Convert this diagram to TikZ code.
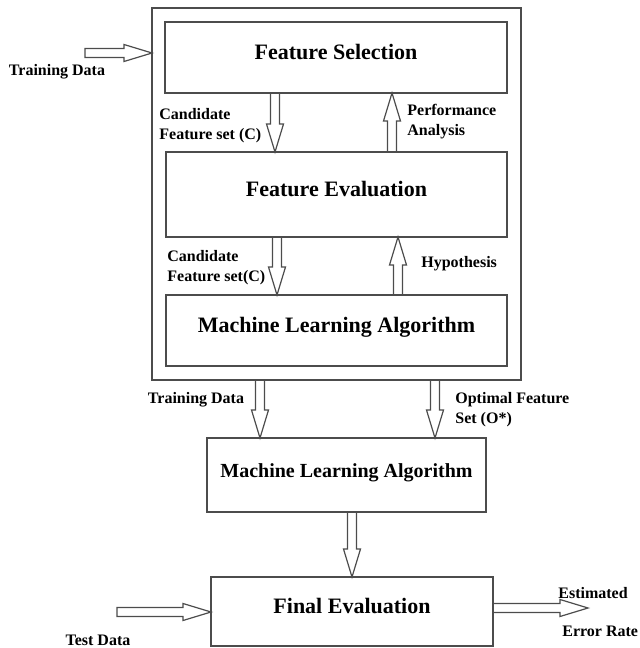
\documentclass[tikz,border=0pt]{standalone}
\usepackage{fontspec}
\setmainfont{Liberation Serif}
\usetikzlibrary{calc}

\begin{document}
\begin{tikzpicture}[x=0.5pt,y=-0.5pt,
  box/.style={draw=black!70,line width=0.9pt,inner sep=0pt,outer sep=0pt,
    text height=8pt,text depth=6pt,font=\fontsize{11}{13}\selectfont\bfseries},
  lbl/.style={font=\fontsize{8}{10}\selectfont\bfseries,align=left,inner sep=0pt},
  blk/.style={draw=black!70,line width=0.6pt,line join=miter,
    to path={let \p1=(\tikztostart), \p2=(\tikztotarget),
      \n1={atan2(\y2-\y1,\x2-\x1)}, \n2={veclen(\x2-\x1,\y2-\y1)} in
      ([shift={(\n1+90:2.25pt)}]\p1) -- ++(\n1:{\n2-14pt}) -- ++(\n1+90:2pt)
      -- (\p2) -- ([shift={(\n1-90:4.25pt)},shift={(\n1+180:14pt)}]\p2)
      -- ++(\n1+90:2pt) -- ([shift={(\n1-90:2.25pt)}]\p1) -- cycle}}]
\useasboundingbox (0,0) rectangle (640,648);
\node[box,minimum width=184.5pt,minimum height=186pt] (outer) at (336.5,194) {};
\node[box,minimum width=171pt,minimum height=35.5pt] (fsel) at (336,57.5) {Feature Selection};
\node[box,minimum width=170.5pt,minimum height=42.5pt] (feval) at (336.5,194.5) {Feature Evaluation};
\node[box,minimum width=170.5pt,minimum height=35.5pt] (mlin) at (336.5,330.5) {Machine Learning Algorithm};
\node[box,minimum width=139.5pt,minimum height=37pt,font=\fontsize{10}{12}\selectfont\bfseries]
  (mlout) at (346.5,475) {Machine Learning Algorithm};
\node[box,minimum width=141pt,minimum height=34.5pt] (final) at (352,611.5) {Final Evaluation};

\coordinate (tdin) at (85,53);
\coordinate (tsin) at (117,612);
\coordinate (errout) at (588,608);

\draw[blk] (tdin) to (outer.west |- tdin);
\draw[blk] (fsel.south -| 275,0) to (feval.north -| 275,0);
\draw[blk] (feval.north -| 392,0) to (fsel.south -| 392,0);
\draw[blk] (feval.south -| 277,0) to (mlin.north -| 277,0);
\draw[blk] (mlin.north -| 398,0) to (feval.south -| 398,0);
\draw[blk] (outer.south -| 260,0) to (mlout.north -| 260,0);
\draw[blk] (outer.south -| 435,0) to (mlout.north -| 435,0);
\draw[blk] (mlout.south -| 352,0) to (final.north -| 352,0);
\draw[blk] (tsin) to (final.west |- tsin);
\draw[blk] (final.east |- errout) to (errout);

\node[lbl] (tdlbl) at (57,72) {Training Data};
\node[lbl,anchor=west] (cand1) at (159,126) {Candidate\\Feature set (C)};
\node[lbl,anchor=west] (perf) at (407,122) {Performance\\Analysis};
\node[lbl,anchor=west] (cand2) at (167,268) {Candidate\\Feature set(C)};
\node[lbl,anchor=west] (hyp) at (421,264) {Hypothesis};
\node[lbl] (tdlbl2) at (196,400) {Training Data};
\node[lbl,anchor=west] (opt) at (455,410) {Optimal Feature\\Set (O*)};
\node[lbl] (tslbl) at (98,640) {Test Data};
\node[lbl,anchor=west] (est) at (558,593) {Estimated};
\node[lbl,anchor=west] (err) at (562,631) {Error Rate};
\end{tikzpicture}
\end{document}
